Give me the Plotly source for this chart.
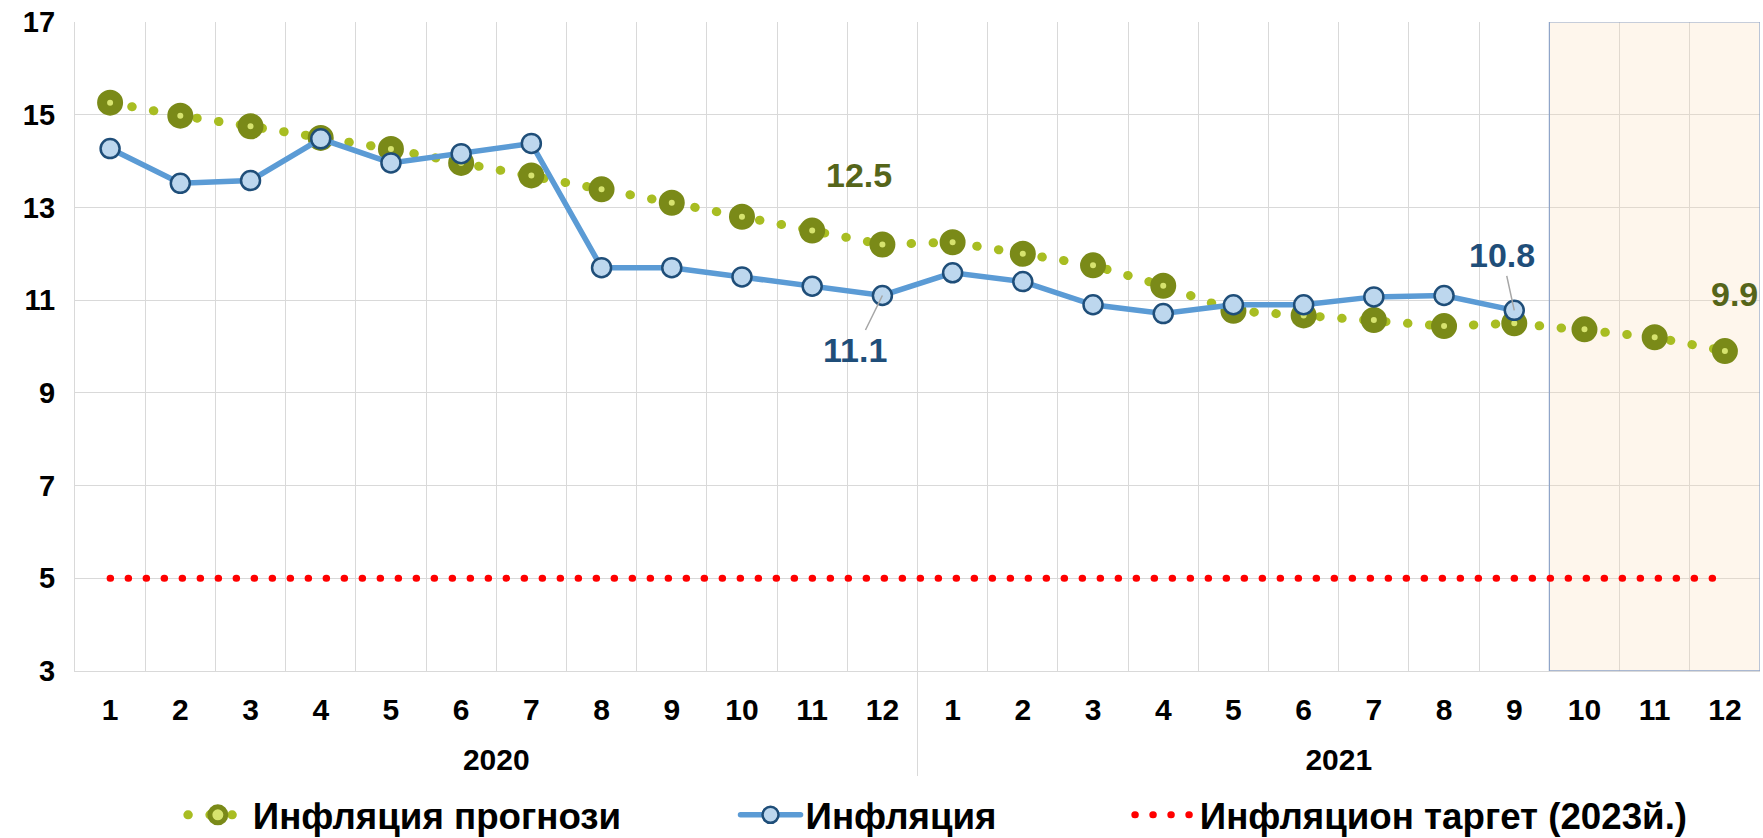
import plotly.graph_objects as go

years = ["2020", "2021"]
months = ["1", "2", "3", "4", "5", "6", "7", "8", "9", "10", "11", "12"]

forecast = [15.26, 14.98, 14.75, 14.5, 14.26, 13.96, 13.69, 13.39, 13.1, 12.8, 12.5, 12.2,
            12.25, 12.0, 11.75, 11.31, 10.77, 10.67, 10.57, 10.44, 10.5, 10.37, 10.2, 9.9]
inflation = [14.27, 13.52, 13.58, 14.48, 13.96, 14.16, 14.38, 11.7, 11.7, 11.5, 11.3, 11.1,
             11.59, 11.4, 10.9, 10.71, 10.9, 10.9, 11.07, 11.1, 10.78]
target = [5] * 24

names = ["Инфляция прогнози", "Инфляция", "Инфляцион таргет (2023й.)"]

month_labels = [m for _ in years for m in months]
n = len(month_labels)
idx = list(range(n))
year_centers = [i * len(months) + (len(months) - 1) / 2 for i in range(len(years))]

FONT = "Arial, Liberation Sans, sans-serif"
GRID = "#D9D9D9"

fig = go.Figure()
fig.add_trace(go.Scatter(
    x=idx, y=forecast, name=names[0], mode="lines+markers", legend="legend",
    line=dict(color="#A8BD22", width=9, dash="0.5px,21.5px"),
    marker=dict(size=16, color="#D6E36E", line=dict(color="#7A8A18", width=10)),
))
fig.add_trace(go.Scatter(
    x=idx[:len(inflation)], y=inflation, name=names[1], mode="lines+markers", legend="legend2",
    line=dict(color="#5B9BD5", width=5.5),
    marker=dict(size=19, color="#BDD7EE", line=dict(color="#1F4E79", width=2.5)),
))
fig.add_trace(go.Scatter(
    x=idx, y=target, name=names[2], mode="lines", legend="legend3",
    line=dict(color="#FF0000", width=7, dash="0.5px,17.5px"),
))
# empty trace so that the lower (year-label) subplot is created
fig.add_trace(go.Scatter(x=[], y=[], xaxis="x2", yaxis="y2", showlegend=False,
                         hoverinfo="skip"))

# forecast period shading (last quarter of 2021)
fig.add_shape(type="rect", xref="x", yref="y", x0=20.5, x1=n - 0.5, y0=3, y1=17,
              fillcolor="rgba(251,219,179,0.25)", line=dict(color="#8EA4C8", width=1.2),
              layer="between")

ann_font_olive = dict(family=FONT, size=34, color="#55651A", weight="bold")
ann_font_blue = dict(family=FONT, size=34, color="#1F4E79", weight="bold")
fig.add_annotation(x=10, y=forecast[10], text="12.5", showarrow=False,
                   xshift=47, yshift=56, font=ann_font_olive)
fig.add_annotation(x=23, y=forecast[23], text="9.9", showarrow=False,
                   xshift=10, yshift=57, font=ann_font_olive)
fig.add_annotation(x=11, y=inflation[11], text="11.1", showarrow=True, arrowhead=0,
                   arrowcolor="#A6A6A6", arrowwidth=1.5, standoff=0, ax=-27, ay=55,
                   font=ann_font_blue)
fig.add_annotation(x=20, y=inflation[20], text="10.8", showarrow=True, arrowhead=0,
                   arrowcolor="#A6A6A6", arrowwidth=1.5, standoff=0, ax=-12, ay=-55,
                   font=ann_font_blue)

legend_font = dict(family=FONT, size=36.7, color="black", weight="bold")
leg_common = dict(orientation="h", y=-0.0517, yanchor="middle", xanchor="left",
                  font=legend_font, itemwidth=60, bgcolor="rgba(0,0,0,0)")

fig.update_layout(
    width=1763, height=838,
    margin=dict(l=75, r=3, t=22, b=62, autoexpand=False),
    paper_bgcolor="white", plot_bgcolor="white",
    font=dict(family=FONT, color="black"),
    showlegend=True,
    legend=dict(x=0.064, **leg_common),
    legend2=dict(x=0.392, **leg_common),
    legend3=dict(x=0.626, **leg_common),
    xaxis=dict(
        anchor="y", range=[-0.5, n - 0.5], tickmode="array", tickvals=idx,
        ticktext=month_labels, showgrid=False, zeroline=False, ticks="",
        showline=True, linecolor=GRID, linewidth=1.3, ticklabelstandoff=12,
        tickfont=dict(family=FONT, size=30, color="black", weight="bold"),
        minor=dict(tick0=-0.5, dtick=1, showgrid=True, gridcolor=GRID, gridwidth=1.3, ticks=""),
    ),
    yaxis=dict(
        anchor="x", domain=[0.1393, 1], range=[3, 17], dtick=2, tick0=3, showgrid=True,
        gridcolor=GRID, gridwidth=1.3, zeroline=False, ticks="", showline=True,
        linecolor=GRID, linewidth=1.3, ticklabelstandoff=13,
        tickfont=dict(family=FONT, size=29, color="black", weight="bold"),
    ),
    xaxis2=dict(
        anchor="y2", range=[-0.5, n - 0.5], tickmode="array", tickvals=year_centers,
        ticktext=years, showgrid=False, zeroline=False, ticks="", showline=False,
        ticklabelposition="inside", ticklabelstandoff=-3,
        tickfont=dict(family=FONT, size=30, color="black", weight="bold"),
        minor=dict(tick0=-0.5, dtick=len(months), showgrid=True, gridcolor=GRID,
                   gridwidth=1.3, ticks=""),
    ),
    yaxis2=dict(anchor="x2", domain=[0, 0.1393], range=[0, 1], showgrid=False,
                zeroline=False, showticklabels=False, ticks="", showline=False),
)

post = ("document.body.style.margin='0';document.body.style.overflow='hidden';"
        "document.querySelectorAll('path.js-line').forEach(function(p){p.style.strokeLinecap='round';});")
fig.write_html("out.html", post_script=post, config={"displayModeBar": False})
